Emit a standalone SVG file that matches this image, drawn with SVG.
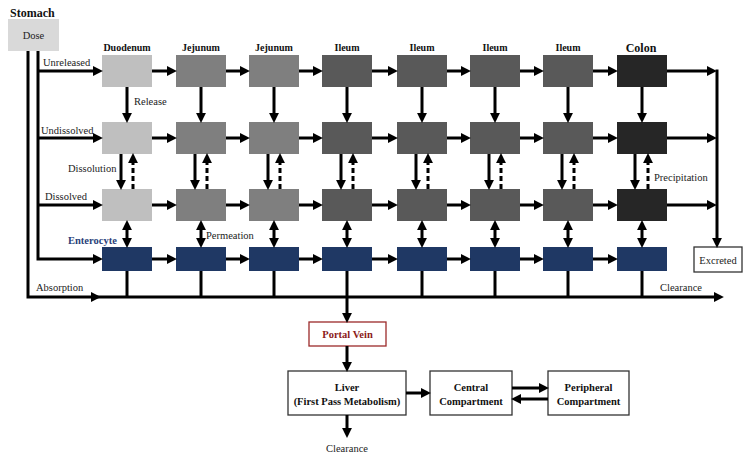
<svg xmlns="http://www.w3.org/2000/svg" width="749" height="458" viewBox="0 0 749 458">
<style>
text{font-family:"Liberation Serif","Times New Roman",serif;fill:#222;}
.lbl{font-size:10.5px;}
.hdr{font-size:10px;font-weight:bold;text-anchor:middle;fill:#111;}
.bold{font-weight:bold;font-size:10.5px;text-anchor:middle;fill:#111;}
.c{stroke:#000;stroke-width:3;fill:none;}
.a{marker-end:url(#ah);}
.aa{marker-start:url(#ah);marker-end:url(#ah);}
.d{stroke-dasharray:5,3;}
.duo{fill:#bfbfbf;}
.jej{fill:#7f7f7f;}
.ile{fill:#595959;}
.col{fill:#262626;}
.ent{fill:#1f3864;}
.wbox{fill:#fff;stroke:#333;stroke-width:1.3;}
</style>
<defs>
<marker id="ah" markerUnits="userSpaceOnUse" markerWidth="10" markerHeight="10" viewBox="0 0 9 9" refX="1" refY="4.5" orient="auto-start-reverse"><path d="M0,0 L9,4.5 L0,9 z" fill="#000"/></marker>
</defs>
<rect width="749" height="458" fill="#fff"/>

<g id="stomach">
<text x="10" y="17" style="font-size:12px;font-weight:bold;fill:#111">Stomach</text>
<rect x="8" y="19" width="51" height="32" fill="#d9d9d9"/>
<text x="33.5" y="39" class="lbl" text-anchor="middle">Dose</text>
</g>

<g id="headers">
<text class="hdr" x="127" y="51">Duodenum</text>
<text class="hdr" x="201" y="51">Jejunum</text>
<text class="hdr" x="274" y="51">Jejunum</text>
<text class="hdr" x="347" y="51">Ileum</text>
<text class="hdr" x="422" y="51">Ileum</text>
<text class="hdr" x="495" y="51">Ileum</text>
<text class="hdr" x="568" y="51">Ileum</text>
<text class="hdr" x="641" y="52" style="font-size:12px">Colon</text>
</g>

<g id="unreleased">
<rect class="duo" x="102" y="55" width="50" height="32"/>
<rect class="jej" x="176" y="55" width="50" height="32"/>
<rect class="jej" x="249" y="55" width="50" height="32"/>
<rect class="ile" x="322" y="55" width="50" height="32"/>
<rect class="ile" x="397" y="55" width="50" height="32"/>
<rect class="ile" x="470" y="55" width="50" height="32"/>
<rect class="ile" x="543" y="55" width="50" height="32"/>
<rect class="col" x="617" y="55" width="50" height="32"/>
</g>
<g id="undissolved">
<rect class="duo" x="102" y="122" width="50" height="32"/>
<rect class="jej" x="176" y="122" width="50" height="32"/>
<rect class="jej" x="249" y="122" width="50" height="32"/>
<rect class="ile" x="322" y="122" width="50" height="32"/>
<rect class="ile" x="397" y="122" width="50" height="32"/>
<rect class="ile" x="470" y="122" width="50" height="32"/>
<rect class="ile" x="543" y="122" width="50" height="32"/>
<rect class="col" x="617" y="122" width="50" height="32"/>
</g>
<g id="dissolved">
<rect class="duo" x="102" y="189" width="50" height="32"/>
<rect class="jej" x="176" y="189" width="50" height="32"/>
<rect class="jej" x="249" y="189" width="50" height="32"/>
<rect class="ile" x="322" y="189" width="50" height="32"/>
<rect class="ile" x="397" y="189" width="50" height="32"/>
<rect class="ile" x="470" y="189" width="50" height="32"/>
<rect class="ile" x="543" y="189" width="50" height="32"/>
<rect class="col" x="617" y="189" width="50" height="32"/>
</g>
<g id="enterocyte">
<rect class="ent" x="102" y="247" width="50" height="24"/>
<rect class="ent" x="176" y="247" width="50" height="24"/>
<rect class="ent" x="249" y="247" width="50" height="24"/>
<rect class="ent" x="322" y="247" width="50" height="24"/>
<rect class="ent" x="397" y="247" width="50" height="24"/>
<rect class="ent" x="470" y="247" width="50" height="24"/>
<rect class="ent" x="543" y="247" width="50" height="24"/>
<rect class="ent" x="617" y="247" width="50" height="24"/>
</g>

<g id="excreted">
<rect class="wbox" x="694" y="247" width="48" height="25"/>
<text class="lbl" x="718" y="264" text-anchor="middle">Excreted</text>
</g>
<g id="portal-vein">
<rect x="309" y="322" width="77" height="24" fill="#fff" stroke="#9b2a2a" stroke-width="1.3"/>
<text class="bold" x="347.5" y="338" style="fill:#8b1a1a">Portal Vein</text>
</g>
<g id="liver">
<rect class="wbox" x="288" y="371" width="118" height="44"/>
<text class="bold" x="347" y="391">Liver</text>
<text class="bold" x="347" y="405">(First Pass Metabolism)</text>
</g>
<g id="central">
<rect class="wbox" x="430" y="371" width="82" height="44"/>
<text class="bold" x="471" y="391">Central</text>
<text class="bold" x="471" y="405">Compartment</text>
</g>
<g id="peripheral">
<rect class="wbox" x="548" y="371" width="81" height="44"/>
<text class="bold" x="588.5" y="391">Peripheral</text>
<text class="bold" x="588.5" y="405">Compartment</text>
</g>

<g id="labels">
<text class="lbl" x="43" y="66">Unreleased</text>
<text class="lbl" x="134" y="105">Release</text>
<text class="lbl" x="41" y="134">Undissolved</text>
<text class="lbl" x="68" y="172">Dissolution</text>
<text class="lbl" x="45" y="200">Dissolved</text>
<text x="68" y="244" style="font-size:10.5px;font-weight:bold;fill:#2a3f7a">Enterocyte</text>
<text class="lbl" x="206" y="239">Permeation</text>
<text class="lbl" x="654" y="181">Precipitation</text>
<text class="lbl" x="36" y="291">Absorption</text>
<text class="lbl" x="660" y="291">Clearance</text>
<text class="lbl" x="347" y="452" text-anchor="middle">Clearance</text>
</g>

<g id="connectors">
<!-- stomach lines -->
<polyline class="c a" points="28,51 28,297 92,297"/>
<line class="c a" x1="92" y1="297" x2="715" y2="297"/>
<polyline class="c a" points="38,51 38,259 94,259"/>
<line class="c a" x1="38" y1="71" x2="94" y2="71"/>
<line class="c a" x1="38" y1="138" x2="94" y2="138"/>
<line class="c a" x1="38" y1="205" x2="94" y2="205"/>
<!-- row arrows -->
<g>
<line class="c a" x1="152" y1="71" x2="168" y2="71"/><line class="c a" x1="226" y1="71" x2="241" y2="71"/><line class="c a" x1="299" y1="71" x2="314" y2="71"/><line class="c a" x1="372" y1="71" x2="389" y2="71"/><line class="c a" x1="447" y1="71" x2="462" y2="71"/><line class="c a" x1="520" y1="71" x2="535" y2="71"/><line class="c a" x1="593" y1="71" x2="609" y2="71"/>
<line class="c a" x1="152" y1="138" x2="168" y2="138"/><line class="c a" x1="226" y1="138" x2="241" y2="138"/><line class="c a" x1="299" y1="138" x2="314" y2="138"/><line class="c a" x1="372" y1="138" x2="389" y2="138"/><line class="c a" x1="447" y1="138" x2="462" y2="138"/><line class="c a" x1="520" y1="138" x2="535" y2="138"/><line class="c a" x1="593" y1="138" x2="609" y2="138"/>
<line class="c a" x1="152" y1="205" x2="168" y2="205"/><line class="c a" x1="226" y1="205" x2="241" y2="205"/><line class="c a" x1="299" y1="205" x2="314" y2="205"/><line class="c a" x1="372" y1="205" x2="389" y2="205"/><line class="c a" x1="447" y1="205" x2="462" y2="205"/><line class="c a" x1="520" y1="205" x2="535" y2="205"/><line class="c a" x1="593" y1="205" x2="609" y2="205"/>
<line class="c a" x1="152" y1="259" x2="168" y2="259"/><line class="c a" x1="226" y1="259" x2="241" y2="259"/><line class="c a" x1="299" y1="259" x2="314" y2="259"/><line class="c a" x1="372" y1="259" x2="389" y2="259"/><line class="c a" x1="447" y1="259" x2="462" y2="259"/><line class="c a" x1="520" y1="259" x2="535" y2="259"/><line class="c a" x1="593" y1="259" x2="609" y2="259"/>
</g>
<!-- release -->
<g>
<line class="c a" x1="127" y1="87" x2="127" y2="114"/><line class="c a" x1="201" y1="87" x2="201" y2="114"/><line class="c a" x1="274" y1="87" x2="274" y2="114"/><line class="c a" x1="347" y1="87" x2="347" y2="114"/><line class="c a" x1="422" y1="87" x2="422" y2="114"/><line class="c a" x1="495" y1="87" x2="495" y2="114"/><line class="c a" x1="568" y1="87" x2="568" y2="114"/><line class="c a" x1="642" y1="87" x2="642" y2="114"/>
</g>
<!-- dissolution solid -->
<g>
<line class="c a" x1="121" y1="154" x2="121" y2="181"/><line class="c a" x1="195" y1="154" x2="195" y2="181"/><line class="c a" x1="268" y1="154" x2="268" y2="181"/><line class="c a" x1="341" y1="154" x2="341" y2="181"/><line class="c a" x1="416" y1="154" x2="416" y2="181"/><line class="c a" x1="489" y1="154" x2="489" y2="181"/><line class="c a" x1="562" y1="154" x2="562" y2="181"/><line class="c a" x1="635" y1="154" x2="635" y2="181"/>
</g>
<!-- precipitation dashed -->
<g>
<line class="c a d" x1="133" y1="189" x2="133" y2="162"/><line class="c a d" x1="207" y1="189" x2="207" y2="162"/><line class="c a d" x1="280" y1="189" x2="280" y2="162"/><line class="c a d" x1="353" y1="189" x2="353" y2="162"/><line class="c a d" x1="428" y1="189" x2="428" y2="162"/><line class="c a d" x1="501" y1="189" x2="501" y2="162"/><line class="c a d" x1="574" y1="189" x2="574" y2="162"/><line class="c a d" x1="648" y1="189" x2="648" y2="162"/>
</g>
<!-- permeation -->
<g>
<line class="c aa" x1="127" y1="229" x2="127" y2="239"/><line class="c aa" x1="201" y1="229" x2="201" y2="239"/><line class="c aa" x1="274" y1="229" x2="274" y2="239"/><line class="c aa" x1="347" y1="229" x2="347" y2="239"/><line class="c aa" x1="422" y1="229" x2="422" y2="239"/><line class="c aa" x1="495" y1="229" x2="495" y2="239"/><line class="c aa" x1="568" y1="229" x2="568" y2="239"/><line class="c aa" x1="642" y1="229" x2="642" y2="239"/>
</g>
<!-- enterocyte drops -->
<g>
<line class="c" x1="127" y1="271" x2="127" y2="297"/><line class="c" x1="201" y1="271" x2="201" y2="297"/><line class="c" x1="274" y1="271" x2="274" y2="297"/><line class="c" x1="347" y1="271" x2="347" y2="297"/><line class="c" x1="422" y1="271" x2="422" y2="297"/><line class="c" x1="495" y1="271" x2="495" y2="297"/><line class="c" x1="568" y1="271" x2="568" y2="297"/><line class="c" x1="642" y1="271" x2="642" y2="297"/>
</g>
<!-- excretion -->
<line class="c a" x1="667" y1="71" x2="708" y2="71"/>
<line class="c a" x1="667" y1="138" x2="708" y2="138"/>
<line class="c a" x1="667" y1="205" x2="708" y2="205"/>
<line class="c a" x1="717" y1="69.5" x2="717" y2="239"/>
<!-- systemic -->
<line class="c a" x1="347" y1="297" x2="347" y2="314"/>
<line class="c a" x1="347" y1="346" x2="347" y2="363"/>
<line class="c a" x1="347" y1="415" x2="347" y2="429"/>
<line class="c a" x1="406" y1="393" x2="422" y2="393"/>
<line class="c a" x1="512" y1="388" x2="540" y2="388"/>
<line class="c a" x1="548" y1="399" x2="520" y2="399"/>
</g>
</svg>
